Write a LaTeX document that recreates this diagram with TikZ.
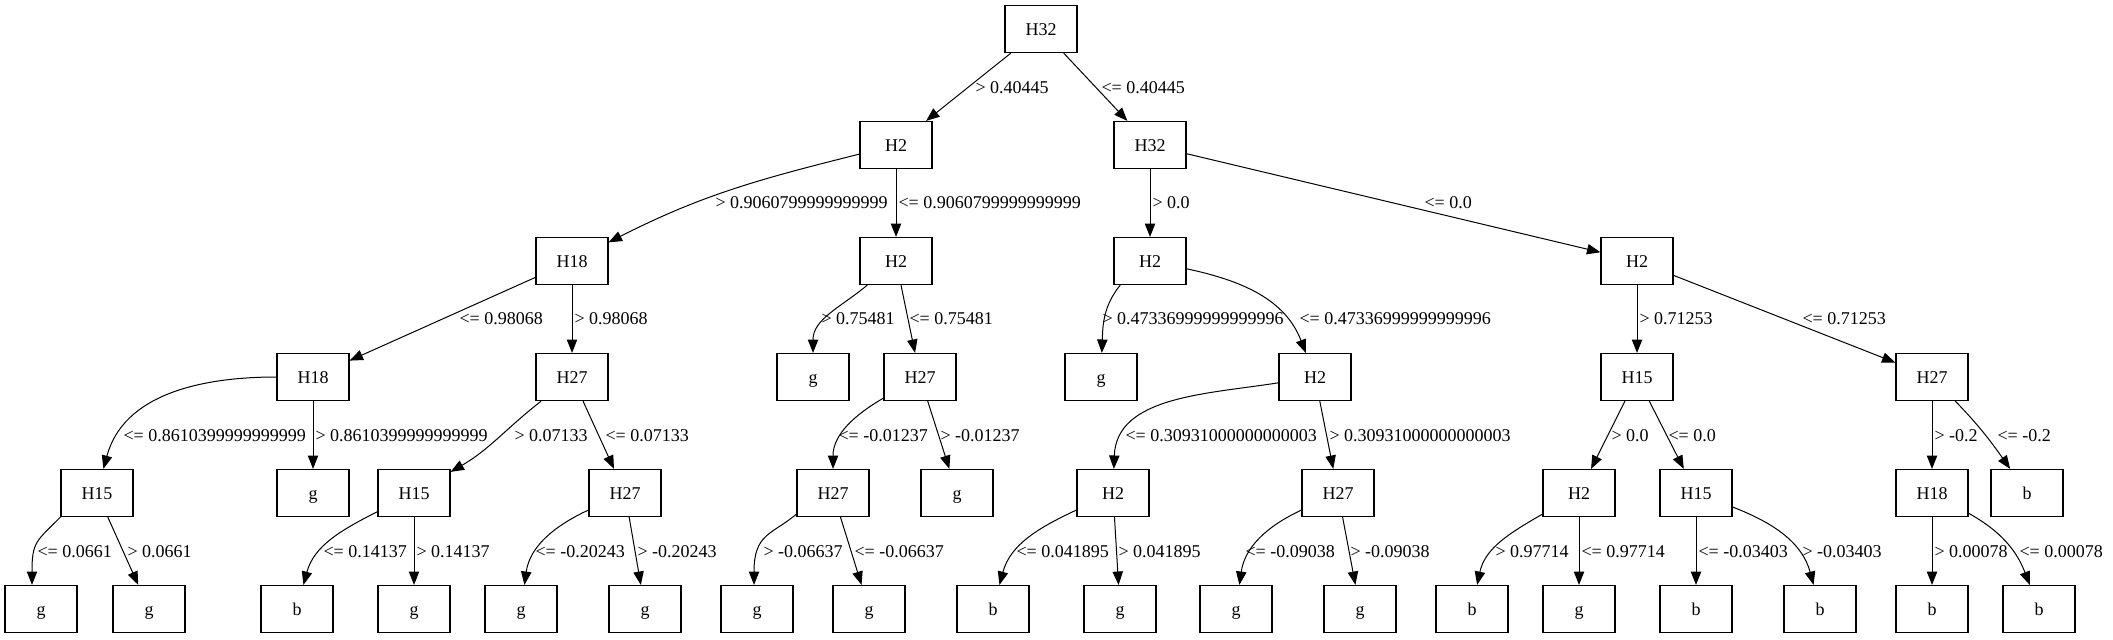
\documentclass[tikz,border=0pt]{standalone}
\usepackage{fontspec}
\setmainfont{Liberation Serif}
\usepackage{tikz}
\usetikzlibrary{
	arrows.meta,        %提供各种箭头
	topaths             %用于to/edge算子构建的路径
}
\tikzstyle{box}=[rectangle,
draw,
line width=0.6pt,
minimum width=36pt,
minimum height=23.5pt,
inner sep=0pt,
text height=0.66em,
text depth=0pt]
\tikzset{cond/.style={anchor=west,
		inner sep=0pt,
		text height=0.66em,
		text depth=0pt
}}
\tikzset{
	every picture/.style={
		>={Triangle[length=6.7pt,width=5.2pt]},
		line width=0.5pt
		%坐标单位为图片像素的一半
}}

\begin{document}
\begin{tikzpicture}[x=0.5pt,y=0.5pt,every node/.style={font=\fontsize{9}{11}\selectfont}]
\useasboundingbox (0,0) rectangle (2113,639);
\node[box] (n) at (1041,610) {H32};
\node[box] (nl) at (896,494) {H2};
\node[box] (nr) at (1150,494) {H32};
\node[box] (nll) at (572,378) {H18};
\node[box] (nlr) at (896,378) {H2};
\node[box] (nrl) at (1150,378) {H2};
\node[box] (nrr) at (1637,378) {H2};
\node[box] (nlll) at (313,262) {H18};
\node[box] (nllr) at (572,262) {H27};
\node[box] (nlrl) at (813,262) {g};
\node[box] (nlrr) at (920,262) {H27};
\node[box] (nrll) at (1101,262) {g};
\node[box] (nrlr) at (1315,262) {H2};
\node[box] (nrrl) at (1637,262) {H15};
\node[box] (nrrr) at (1932,262) {H27};
\foreach \n/\x/\t in {nllll/97/H15, nlllr/313/g, nllrl/414/H15, nllrr/625/H27,
	nlrrl/833/H27, nlrrr/957/g, nrlrl/1113/H2, nrlrr/1338/H27,
	nrrll/1579/H2, nrrlr/1696/H15, nrrrl/1932/H18, nrrrr/2027/b}
	\node[box] (\n) at (\x,146) {\t};
\foreach \n/\x/\t in {nlllll/41/g, nllllr/149/g, nllrll/297/b, nllrlr/414/g,
	nllrrl/521/g, nllrrr/645/g, nlrrll/757/g, nlrrlr/869/g,
	nrlrll/993/b, nrlrlr/1120/g, nrlrrl/1236/g, nrlrrr/1360/g,
	nrrlll/1472/b, nrrllr/1579/g, nrrlrl/1696/b, nrrlrr/1820/b,
	nrrrll/1932/b, nrrrlr/2039/b}
	\node[box] (\n) at (\x,30) {\t};

\draw[->] (n) -- (nl) node[cond] (cnl) at (975,552) {> 0.40445};
\draw[->] (n) -- (nr) node[cond] (cnr) at (1101,552) {<= 0.40445};

\draw[->] (nl) to[out=194,in=27] (nll) node[cond] (cnll) at (715,437) {> 0.9060799999999999};
\draw[->] (nl) -- (nlr) node[cond] (cnlr) at (898,437) {<= 0.9060799999999999};
\draw[->] (nr) -- (nrl) node[cond] (cnrl) at (1152,437) {> 0.0};
\draw[->] (nr) -- (nrr) node[cond] (cnrr) at (1424,437) {<= 0.0};

\draw[->] (nll) -- (nlll) node[cond] (cnlll) at (459,321) {<= 0.98068};
\draw[->] (nll) -- (nllr) node[cond] (cnllr) at (574,321) {> 0.98068};
\draw[->] (nlr) to[out=220,in=90] (nlrl) node[cond] (cnlrl) at (821,321) {> 0.75481};
\draw[->] (nlr) -- (nlrr) node[cond] (cnlrr) at (909,321) {<= 0.75481};
\draw[->] (nrl.-141) to[out=231,in=88] (nrll) node[cond] (cnrll) at (1102,321) {> 0.47336999999999996};
\draw[->] (nrl) to[out=-12,in=111] (nrlr) node[cond] (cnrlr) at (1299,321) {<= 0.47336999999999996};
\draw[->] (nrr) -- (nrrl) node[cond] (cnrrl) at (1639,321) {> 0.71253};
\draw[->] (nrr) -- (nrrr) node[cond] (cnrrr) at (1802,321) {<= 0.71253};

\draw[->] (nlll) to[out=180,in=75] (nllll) node[cond] (cnllll) at (123,204) {<= 0.8610399999999999};
\draw[->] (nlll) -- (nlllr) node[cond] (cnlllr) at (315,204) {> 0.8610399999999999};
\draw[->] (nllr) to[out=218,in=30] (nllrl) node[cond] (cnllrl) at (514,204) {> 0.07133};
\draw[->] (nllr) -- (nllrr) node[cond] (cnllrr) at (605,204) {<= 0.07133};
\draw[->] (nlrr) to[out=210,in=90] (nlrrl) node[cond] (cnlrrl) at (838,204) {<= -0.01237};
\draw[->] (nlrr) -- (nlrrr) node[cond] (cnlrrr) at (940,204) {> -0.01237};
\draw[->] (nrlr) to[out=189,in=88] (nrlrl) node[cond] (cnrlrl) at (1125,204) {<= 0.30931000000000003};
\draw[->] (nrlr) -- (nrlrr) node[cond] (cnrlrr) at (1329,204) {> 0.30931000000000003};
\draw[->] (nrrl) -- (nrrll) node[cond] (cnrrll) at (1611,204) {> 0.0};
\draw[->] (nrrl) -- (nrrlr) node[cond] (cnrrlr) at (1668,204) {<= 0.0};
\draw[->] (nrrr) -- (nrrrl) node[cond] (cnrrrl) at (1934,204) {> -0.2};
\draw[->] (nrrr) to[out=-46,in=125] (nrrrr) node[cond] (cnrrrr) at (1997,204) {<= -0.2};

\draw[->] (nllll.south west) to[out=225,in=90,out looseness=1.2,in looseness=1.5] ([xshift=-4.5pt]nlllll.north) node[cond] (cnlllll) at (37,88) {<= 0.0661};
\draw[->] (nllll) -- (nllllr) node[cond] (cnllllr) at (127,88) {> 0.0661};
\draw[->] (nllrl) to[out=207,in=75] (nllrll) node[cond] (cnllrll) at (323,88) {<= 0.14137};
\draw[->] (nllrl) -- (nllrlr) node[cond] (cnllrlr) at (416,88) {> 0.14137};
\draw[->] (nllrr) to[out=205,in=82] (nllrrl) node[cond] (cnllrrl) at (535,88) {<= -0.20243};
\draw[->] (nllrr) -- (nllrrr) node[cond] (cnllrrr) at (637,88) {> -0.20243};
\draw[->] (nlrrl.-150) to[out=220,in=90,in looseness=1.6] ([xshift=-1.5pt]nlrrll.north) node[cond] (cnlrrll) at (763,88) {> -0.06637};
\draw[->] (nlrrl) -- (nlrrlr) node[cond] (cnlrrlr) at (854,88) {<= -0.06637};
\draw[->] (nrlrl) to[out=205,in=75] (nrlrll) node[cond] (cnrlrll) at (1016,88) {<= 0.041895};
\draw[->] (nrlrl) -- (nrlrlr) node[cond] (cnrlrlr) at (1118,88) {> 0.041895};
\draw[->] (nrlrr) to[out=205,in=82] (nrlrrl) node[cond] (cnrlrrl) at (1245,88) {<= -0.09038};
\draw[->] (nrlrr) -- (nrlrrr) node[cond] (cnrlrrr) at (1350,88) {> -0.09038};
\draw[->] (nrrll) to[out=210,in=78] (nrrlll) node[cond] (cnrrlll) at (1495,88) {> 0.97714};
\draw[->] (nrrll) -- (nrrllr) node[cond] (cnrrllr) at (1581,88) {<= 0.97714};
\draw[->] (nrrlr) -- (nrrlrl) node[cond] (cnrrlrl) at (1698,88) {<= -0.03403};
\draw[->] (nrrlr) to[out=-21,in=105] (nrrlrr) node[cond] (cnrrlrr) at (1802,88) {> -0.03403};
\draw[->] (nrrrl) -- (nrrrll) node[cond] (cnrrrll) at (1934,88) {> 0.00078};
\draw[->] (nrrrl) to[out=-29,in=111] (nrrrlr) node[cond] (cnrrrlr) at (2019,88) {<= 0.00078};
\end{tikzpicture}
\end{document}
